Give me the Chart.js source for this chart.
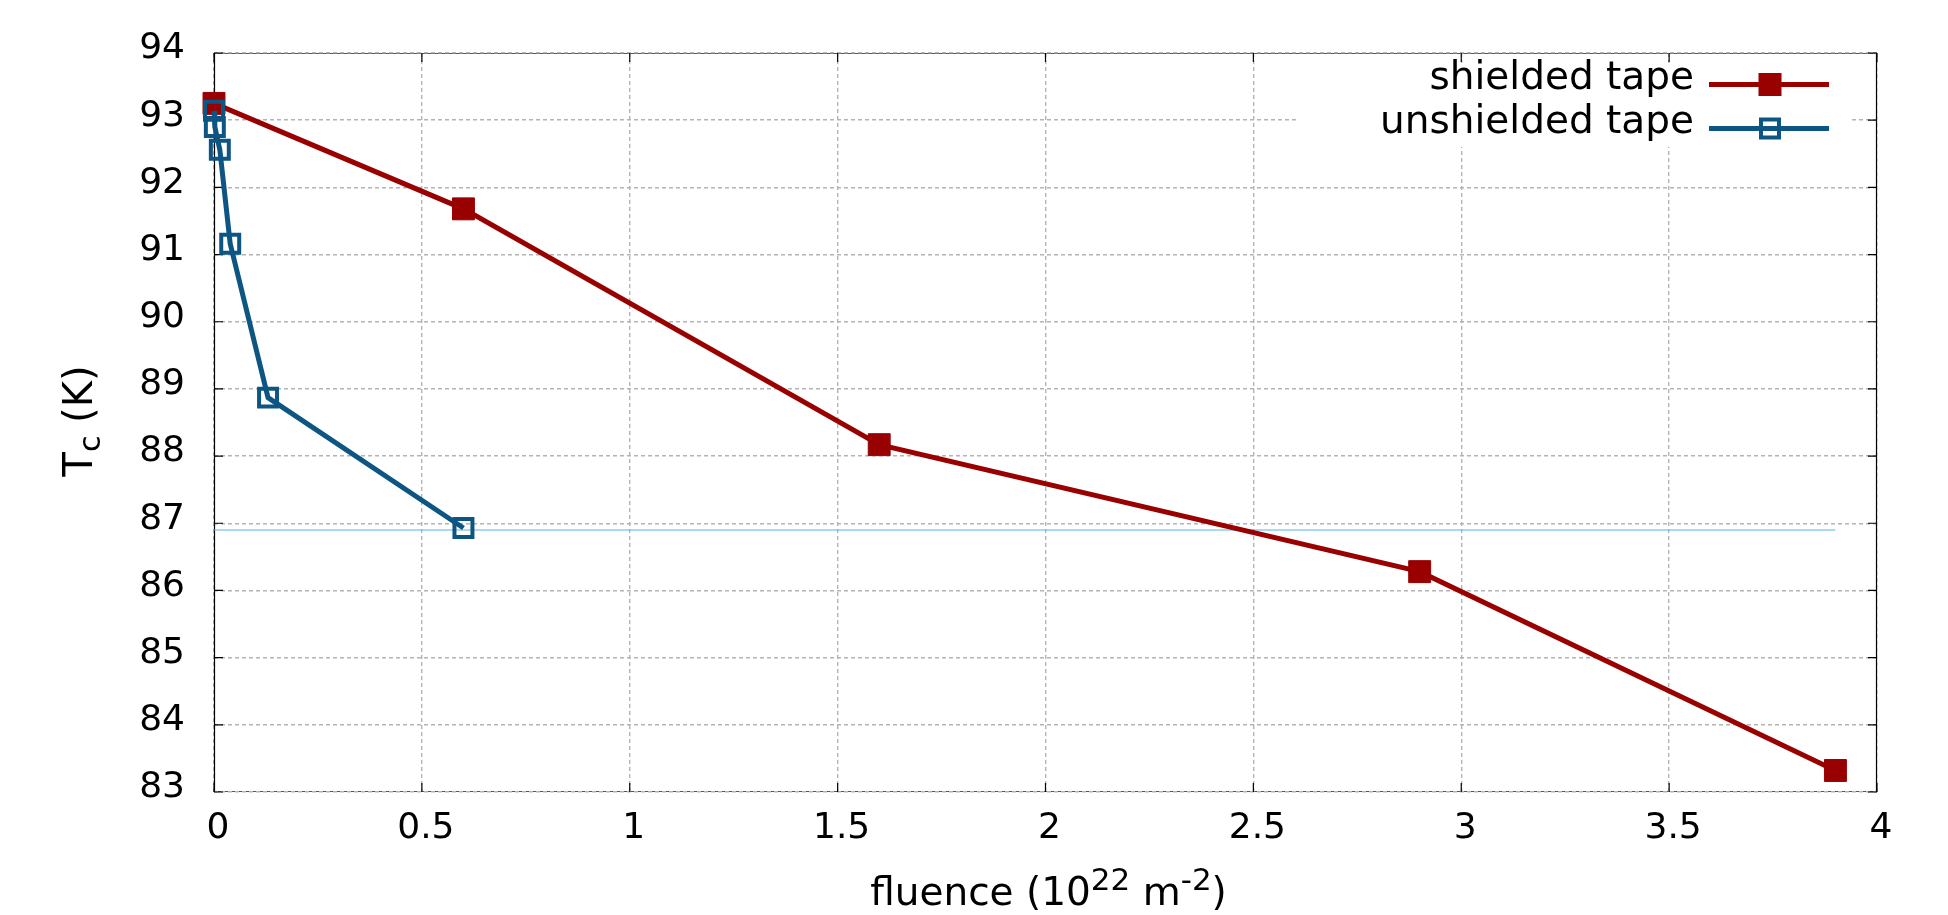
<!DOCTYPE html>
<html>
<head>
<meta charset="utf-8">
<script src="https://cdn.jsdelivr.net/npm/chart.js@4"></script>
<style>
  html, body { margin: 0; padding: 0; background: #ffffff; }
  #wrap { width: 1948px; height: 915px; }
</style>
</head>
<body>
<div id="wrap"><canvas id="c" width="1948" height="915"></canvas></div>
<script>
// ---- data ----
const shieldedFluence   = [0, 0.6, 1.6, 2.9, 3.9];
const shieldedTc        = [93.25, 91.68, 88.17, 86.28, 83.32];
const unshieldedFluence = [0, 0.002, 0.014, 0.039, 0.13, 0.6];
const unshieldedTc      = [93.14, 92.9, 92.56, 91.16, 88.87, 86.93];
const refLineFluence    = [0, 3.9];
const refLineTc         = [86.9, 86.9];
const seriesLabels      = ['shielded tape', 'unshielded tape'];
const xTitleParts       = ['fluence (10', '22', ' m', '-2', ')'];
const yTitleParts       = ['T', 'c', ' (K)'];

const RED = '#990000';
const BLUE = '#0d5583';
const LIGHTBLUE = '#56b4e9';
const FONT = "'DejaVu Sans', Verdana, sans-serif";

const toPts = (xs, ys) => xs.map((x, i) => ({x: x, y: ys[i]}));

const framePlugin = {
  id: 'frame',
  beforeDraw(chart) {
    const {ctx, chartArea: a} = chart;
    ctx.save();
    ctx.fillStyle = '#ffffff';
    ctx.fillRect(0, 0, chart.width, chart.height);
    ctx.strokeStyle = '#555555';
    ctx.lineWidth = 1;
    ctx.beginPath();
    ctx.moveTo(a.left, a.top + 0.5); ctx.lineTo(a.right, a.top + 0.5);
    ctx.moveTo(a.left, a.bottom - 0.5); ctx.lineTo(a.right, a.bottom - 0.5);
    ctx.stroke();
    ctx.restore();
  },
  beforeDatasetsDraw(chart) {
    const {ctx, chartArea: a, scales: {x, y}} = chart;
    ctx.save();
    ctx.strokeStyle = '#000000';
    ctx.lineWidth = 1.2;
    ctx.beginPath();
    ctx.moveTo(a.left + 0.5, a.top); ctx.lineTo(a.left + 0.5, a.bottom);
    ctx.moveTo(a.right - 0.5, a.top); ctx.lineTo(a.right - 0.5, a.bottom);
    const L = 9;
    x.ticks.forEach(t => {
      const px = x.getPixelForValue(t.value);
      ctx.moveTo(px, a.bottom); ctx.lineTo(px, a.bottom - L);
      ctx.moveTo(px, a.top); ctx.lineTo(px, a.top + L);
    });
    y.ticks.forEach(t => {
      const py = y.getPixelForValue(t.value);
      ctx.moveTo(a.left, py); ctx.lineTo(a.left + L, py);
      ctx.moveTo(a.right, py); ctx.lineTo(a.right - L, py);
    });
    ctx.stroke();
    ctx.restore();
  },
  afterDraw(chart) {
    const {ctx, chartArea: a} = chart;
    ctx.save();
    // ---- legend ----
    ctx.fillStyle = '#ffffff';
    ctx.fillRect(1298, 63, 1852 - 1298, 147 - 63);
    ctx.font = '39px ' + FONT;
    ctx.textAlign = 'right';
    ctx.textBaseline = 'alphabetic';
    const rows = [
      {label: seriesLabels[0], color: RED, y: 84.5, filled: true},
      {label: seriesLabels[1], color: BLUE, y: 128.5, filled: false}
    ];
    rows.forEach(r => {
      ctx.fillStyle = '#000000';
      ctx.fillText(r.label, 1694, r.y + 4);
      ctx.strokeStyle = r.color;
      ctx.lineWidth = 5;
      ctx.beginPath();
      ctx.moveTo(1709, r.y); ctx.lineTo(1829, r.y);
      ctx.stroke();
      if (r.filled) {
        ctx.fillStyle = r.color;
        ctx.fillRect(1770 - 11.5, r.y - 11.5, 23, 23);
      } else {
        ctx.lineWidth = 4;
        ctx.strokeRect(1770 - 9, r.y - 9, 18, 18);
      }
    });
    // ---- x title ----
    const sizes = [39, 31, 39, 31, 39];
    const dys = [0, -15, 0, -15, 0];
    ctx.textAlign = 'left';
    ctx.fillStyle = '#000000';
    let widths = xTitleParts.map((t, i) => { ctx.font = sizes[i] + 'px ' + FONT; return ctx.measureText(t).width; });
    let total = widths.reduce((s, w) => s + w, 0);
    let cx = (a.left + a.right) / 2 + 3 - total / 2;
    xTitleParts.forEach((t, i) => {
      ctx.font = sizes[i] + 'px ' + FONT;
      ctx.fillText(t, cx, 905 + dys[i]);
      cx += widths[i];
    });
    // ---- y title ----
    const ys = [40, 30, 40];
    const ydy = [0, 8, 0];
    widths = yTitleParts.map((t, i) => { ctx.font = ys[i] + 'px ' + FONT; return ctx.measureText(t).width; });
    total = widths.reduce((s, w) => s + w, 0);
    ctx.translate(92, 421);
    ctx.rotate(-Math.PI / 2);
    let ox = -total / 2;
    yTitleParts.forEach((t, i) => {
      ctx.font = ys[i] + 'px ' + FONT;
      ctx.fillText(t, ox, ydy[i]);
      ox += widths[i];
    });
    ctx.restore();
  }
};

new Chart(document.getElementById('c'), {
  type: 'scatter',
  data: {
    datasets: [
      {
        label: 'reference',
        data: toPts(refLineFluence, refLineTc),
        showLine: true,
        borderColor: LIGHTBLUE,
        borderWidth: 1.2,
        pointRadius: 0,
        order: 3
      },
      {
        label: seriesLabels[0],
        data: toPts(shieldedFluence, shieldedTc),
        showLine: true,
        clip: false,
        borderColor: RED,
        backgroundColor: RED,
        borderWidth: 5,
        pointStyle: 'rect',
        pointRadius: 15.5,
        pointBorderWidth: 1,
        pointBorderColor: RED,
        pointBackgroundColor: RED,
        order: 2
      },
      {
        label: seriesLabels[1],
        data: toPts(unshieldedFluence, unshieldedTc),
        showLine: true,
        clip: false,
        borderColor: BLUE,
        backgroundColor: 'rgba(0,0,0,0)',
        borderWidth: 5,
        pointStyle: 'rect',
        pointRadius: 12.7,
        pointBorderWidth: 4,
        pointBorderColor: BLUE,
        pointBackgroundColor: 'rgba(0,0,0,0)',
        order: 1
      }
    ]
  },
  options: {
    responsive: false,
    animation: false,
    devicePixelRatio: 1,
    layout: { padding: { left: 0, top: 53, right: 71, bottom: 0 } },
    plugins: { legend: { display: false }, tooltip: { enabled: false } },
    scales: {
      x: {
        type: 'linear',
        min: 0, max: 4,
        afterFit(s) { s.height = 123; },
        ticks: {
          stepSize: 0.5,
          padding: 15,
          labelOffset: 4,
          color: '#000000',
          font: { family: FONT, size: 36, lineHeight: 1.2 },
          maxRotation: 0,
          callback: v => String(v)
        },
        grid: { color: '#b4b4b4', lineWidth: 1.4, drawTicks: false },
        border: { display: false, dash: [4, 3] }
      },
      y: {
        type: 'linear',
        min: 83, max: 94,
        afterFit(s) { s.width = 214; },
        ticks: {
          stepSize: 1,
          padding: 29,
          labelOffset: -4,
          color: '#000000',
          font: { family: FONT, size: 36, lineHeight: 1.2 },
          callback: v => String(v)
        },
        grid: { color: '#b4b4b4', lineWidth: 1.4, drawTicks: false },
        border: { display: false, dash: [4, 3] }
      }
    }
  },
  plugins: [framePlugin]
});
</script>
</body>
</html>
